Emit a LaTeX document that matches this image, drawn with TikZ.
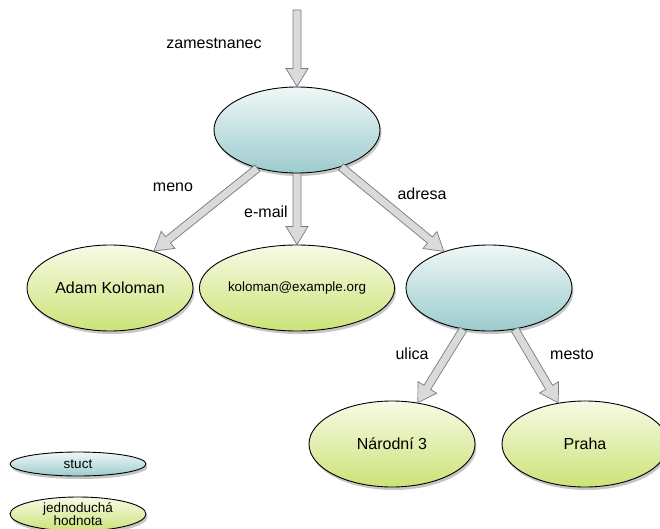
\documentclass[tikz,border=0pt]{standalone}
\usepackage{fontspec}
\setmainfont{Liberation Sans}
\usetikzlibrary{shapes.geometric,shadows,calc}
\definecolor{structtop}{HTML}{F0F7F7}
\definecolor{structbot}{HTML}{9CCBCD}
\definecolor{valtop}{HTML}{F7FAE6}
\definecolor{valbot}{HTML}{CCE377}
\definecolor{arrowfill}{HTML}{DADADA}
\definecolor{arrowline}{HTML}{7A7A7A}

\tikzset{
  blob/.style={ellipse, draw=black, line width=0.9pt, inner sep=0pt,
    minimum width=166pt, minimum height=86pt,
    drop shadow={shadow xshift=1.5pt, shadow yshift=-3pt, opacity=0.45},
    font=\fontsize{16}{18}\selectfont},
  structnode/.style={blob, top color=structtop, bottom color=structbot},
  valuenode/.style={blob, top color=valtop, bottom color=valbot},
  legendnode/.style={minimum width=136pt, font=\fontsize{13.5}{13}\selectfont, align=center},
  lbl/.style={font=\fontsize{16}{18}\selectfont, inner sep=0pt},
  fat/.style={draw=arrowline, line width=0.7pt, fill=arrowfill, line join=miter},
}

% hollow block arrow from #1 to #2 (shaft half width, head half width, head length)
\newcommand\hollowarrow[2]{%
  \path ($(#2)!18pt!(#1)$) coordinate (hb);
  \draw[fat] ($(#1)!4pt!90:(#2)$) -- ($(hb)!4pt!-90:(#1)$) -- ($(hb)!11pt!-90:(#1)$)
    -- (#2) -- ($(hb)!11pt!90:(#1)$) -- ($(hb)!4pt!90:(#1)$) -- ($(#1)!4pt!-90:(#2)$) -- cycle;
}

\begin{document}
\begin{tikzpicture}[x=1pt,y=-1pt]
  \useasboundingbox (0,0) rectangle (660,529);

  % structures and values
  \node[structnode] (root) at (297,130) {};
  \node[valuenode] (adam) at (110,288) {Adam Koloman};
  \node[valuenode, minimum width=186pt, font=\fontsize{13.4}{15}\selectfont] (email) at (297,288) {koloman@example.org};
  \node[structnode] (addr) at (489,288) {};
  \node[valuenode] (street) at (392,444) {Národní 3};
  \node[valuenode] (city) at (585,444) {Praha};

  % legend
  \node[structnode, legendnode, minimum height=24pt] (lstruct) at (78,464) {stuct};
  \node[valuenode, legendnode, minimum height=34pt] (lvalue) at (78,514) {jednoduchá\\hodnota};

  % connectors
  \coordinate (entry) at (297,10);
  \hollowarrow{entry}{root.90}
  \hollowarrow{root.224}{adam.40}
  \hollowarrow{root.-90}{email.90}
  \hollowarrow{root.320}{addr.141}
  \hollowarrow{addr.238}{street.58}
  \hollowarrow{addr.302}{city.123}

  % connector labels
  \node[lbl] (lzam) at (214,43) {zamestnanec};
  \node[lbl] (lmeno) at (173,187) {meno};
  \node[lbl] (lmail) at (266,212) {e-mail};
  \node[lbl] (ladr) at (422,194) {adresa};
  \node[lbl] (lulica) at (412,354) {ulica};
  \node[lbl] (lmesto) at (572,354) {mesto};
\end{tikzpicture}
\end{document}
